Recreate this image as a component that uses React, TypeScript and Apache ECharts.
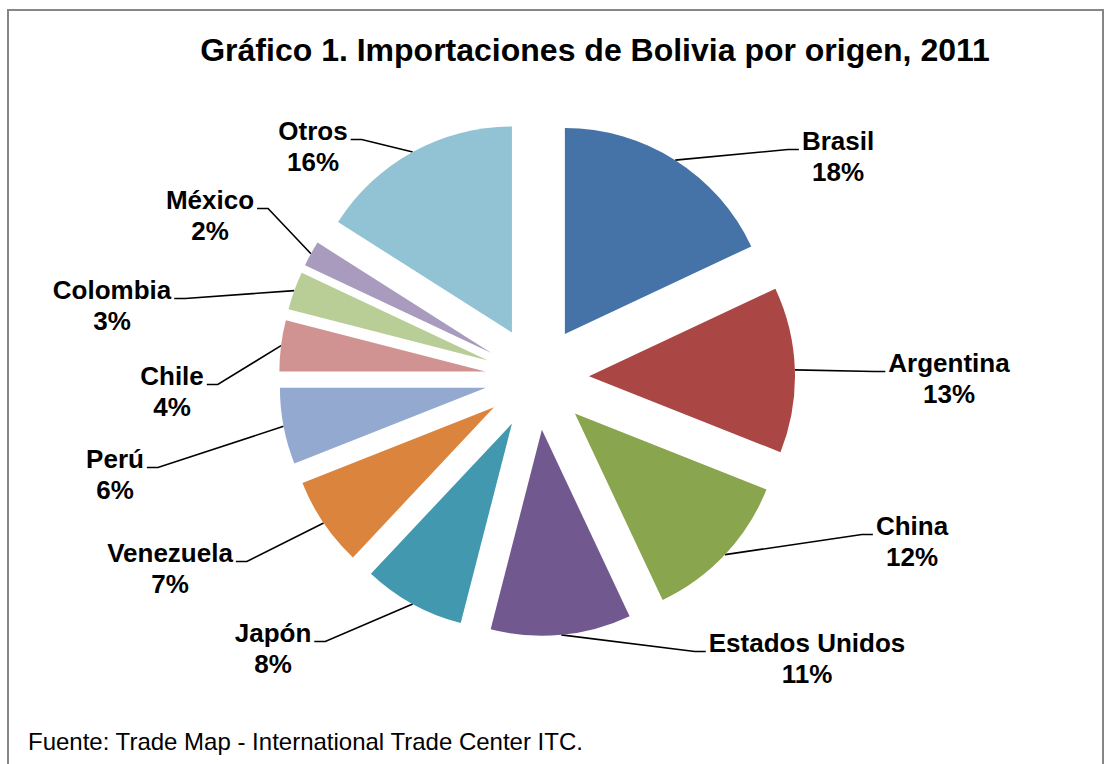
import React, { useEffect, useRef } from "react";
import * as echarts from "echarts";

// ---- data ----
const countries = [
  "Brasil",
  "Argentina",
  "China",
  "Estados Unidos",
  "Japón",
  "Venezuela",
  "Perú",
  "Chile",
  "Colombia",
  "México",
  "Otros",
];
const shares = [18, 13, 12, 11, 8, 7, 6, 4, 3, 2, 16];

const titleText = "Gráfico 1. Importaciones de Bolivia por origen, 2011";
const sourceText = "Fuente: Trade Map - International Trade Center ITC.";

// ---- styles / layout ----
const sliceColors = [
  "#4572A7",
  "#AA4643",
  "#89A54E",
  "#71588F",
  "#4198AF",
  "#DB843D",
  "#93A9CF",
  "#D19392",
  "#B9CD96",
  "#A99BBD",
  "#92C3D4",
];
const labelCenters: number[][] = [
  [838, 156],
  [949, 378],
  [912, 541],
  [807, 658],
  [273, 648],
  [170, 568],
  [115, 474],
  [172, 391],
  [112, 305],
  [210, 215],
  [313, 146],
];
const PIE_CX = 537;
const PIE_CY = 378;
const PIE_R = 206;
const EXPLODE = 52;
const FONT = "'Liberation Sans', Arial, Helvetica, sans-serif";
const LABEL_LH = 31;

export default function App() {
  const ref = useRef<HTMLDivElement>(null);

  useEffect(() => {
    if (!ref.current) return;
    const chart = echarts.init(ref.current, null, { renderer: "svg" });

    const pieData = countries.map((name, i) => ({
      name,
      value: shares[i],
      selected: true,
      itemStyle: { color: sliceColors[i] },
    }));
    const labelData = countries.map((name, i) => ({
      name,
      value: shares[i],
    }));

    chart.setOption({
      animation: false,
      backgroundColor: "#ffffff",
      graphic: [
        {
          type: "rect",
          shape: { x: 8, y: 10, width: 1095, height: 775 },
          style: { fill: "none", stroke: "#868686", lineWidth: 2 },
          silent: true,
          z: -10,
        },
        {
          type: "text",
          x: 595,
          y: 50,
          style: {
            text: titleText,
            fontFamily: FONT,
            fontSize: 32,
            fontWeight: "bold",
            fill: "#000000",
            align: "center",
            verticalAlign: "middle",
          },
          silent: true,
        },
        {
          type: "text",
          x: 28,
          y: 741,
          style: {
            text: sourceText,
            fontFamily: FONT,
            fontSize: 24,
            fontWeight: "normal",
            fill: "#000000",
            align: "left",
            verticalAlign: "middle",
          },
          silent: true,
        },
      ],
      series: [
        {
          type: "pie",
          center: [PIE_CX, PIE_CY],
          radius: [0, PIE_R],
          startAngle: 90,
          clockwise: true,
          selectedMode: "multiple",
          selectedOffset: EXPLODE,
          avoidLabelOverlap: false,
          silent: true,
          emphasis: { disabled: true },
          label: { show: false },
          labelLine: { show: false },
          itemStyle: { borderWidth: 0 },
          data: pieData,
        },
        {
          type: "pie",
          center: [PIE_CX, PIE_CY],
          radius: [0, PIE_R + EXPLODE],
          startAngle: 90,
          clockwise: true,
          avoidLabelOverlap: false,
          silent: true,
          percentPrecision: 0,
          emphasis: { disabled: true },
          itemStyle: { color: "rgba(0,0,0,0)", borderWidth: 0 },
          label: {
            show: true,
            position: "outside",
            formatter: "{b}\n{d}%",
            fontFamily: FONT,
            fontSize: 26,
            fontWeight: "bold",
            color: "#000000",
            lineHeight: LABEL_LH,
            align: "center",
          },
          labelLine: {
            show: true,
            length: 10,
            length2: 10,
            lineStyle: { color: "#000000", width: 1.6 },
          },
          labelLayout: (p: any) => {
            const c = labelCenters[p.dataIndex];
            const cx = c[0];
            const cy = c[1];
            const w = p.labelRect ? p.labelRect.width : 80;
            const onRight = cx > PIE_CX;
            const edgeX = onRight ? cx - w / 2 - 3 : cx + w / 2 + 3;
            const lineY = cy - LABEL_LH / 2 + 9;
            const start =
              p.labelLinePoints && p.labelLinePoints[0]
                ? p.labelLinePoints[0]
                : [edgeX, lineY];
            return {
              x: cx,
              y: cy,
              align: "center",
              verticalAlign: "middle",
              labelLinePoints: [
                start,
                [onRight ? edgeX - 11 : edgeX + 11, lineY],
                [edgeX, lineY],
              ],
            };
          },
          data: labelData,
        },
      ],
    });

    return () => {
      chart.dispose();
    };
  }, []);

  return (
    <div
      ref={ref}
      style={{
        position: "fixed",
        left: 0,
        top: 0,
        width: 1112,
        height: 764,
        background: "#ffffff",
      }}
    />
  );
}
